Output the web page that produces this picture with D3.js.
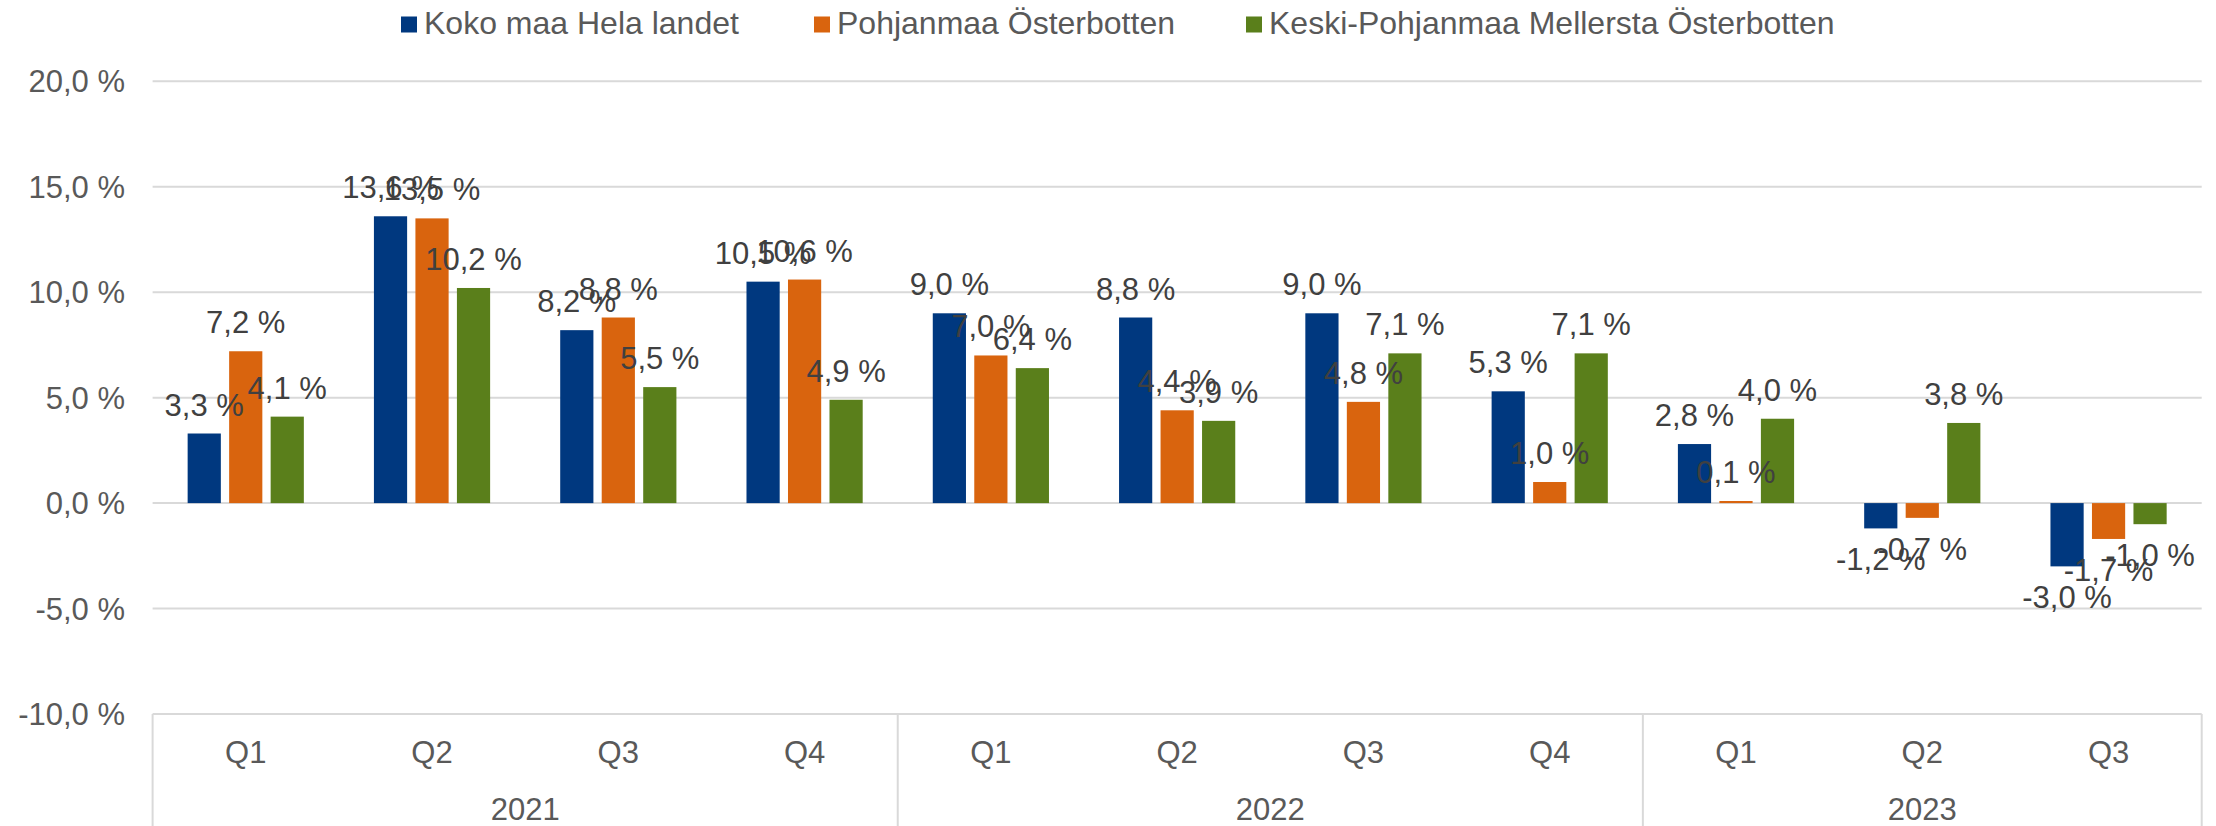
<!DOCTYPE html>
<meta charset="UTF-8">
<style>
  body { margin: 0; background: #fff; }
  svg { display: block; font-family: "Liberation Sans", Arial, sans-serif; }
</style>
<svg xmlns="http://www.w3.org/2000/svg"></svg>
<script src="https://d3js.org/d3.v7.min.js"></script>
<script>
  const WIDTH = 2216, HEIGHT = 826;

  const years = ['2021', '2022', '2023'];
  const quarters = ['Q1', 'Q2', 'Q3', 'Q4', 'Q1', 'Q2', 'Q3', 'Q4', 'Q1', 'Q2', 'Q3'];
  const yearOf = [0, 0, 0, 0, 1, 1, 1, 1, 2, 2, 2];

  const seriesNames = ['Koko maa Hela landet', 'Pohjanmaa Österbotten', 'Keski-Pohjanmaa Mellersta Österbotten'];
  const seriesColors = ['#00387f', '#d9640e', '#5a7f1b'];

  const kokoMaa = [3.3, 13.6, 8.2, 10.5, 9.0, 8.8, 9.0, 5.3, 2.8, -1.2, -3.0];
  const pohjanmaa = [7.2, 13.5, 8.8, 10.6, 7.0, 4.4, 4.8, 1.0, 0.1, -0.7, -1.7];
  const keskiPohjanmaa = [4.1, 10.2, 5.5, 4.9, 6.4, 3.9, 7.1, 7.1, 4.0, 3.8, -1.0];

  const yTicks = [-10, -5, 0, 5, 10, 15, 20];

  const seriesValues = [kokoMaa, pohjanmaa, keskiPohjanmaa];

  const plot = { left: 152.6, right: 2201.7, top: 81.3, bottom: 714 };

  const locale = d3.formatLocale({ decimal: ',', thousands: ' ', grouping: [3], currency: ['', ' €'], minus: '-' });
  const fmt = locale.format('.1f');
  const pct = v => fmt(v) + ' %';

  const svg = d3.select('svg')
    .attr('width', WIDTH)
    .attr('height', HEIGHT)
    .attr('viewBox', `0 0 ${WIDTH} ${HEIGHT}`);

  const x = d3.scaleBand()
    .domain(d3.range(quarters.length))
    .range([plot.left, plot.right]);

  const groupWidth = 124.5;
  const x1 = d3.scaleBand()
    .domain(d3.range(seriesNames.length))
    .range([-groupWidth / 2, groupWidth / 2])
    .paddingInner(0.2)
    .paddingOuter(0.1);

  const y = d3.scaleLinear()
    .domain([-10, 20])
    .range([plot.bottom, plot.top]);

  // gridlines
  svg.append('g')
    .selectAll('line')
    .data(yTicks)
    .join('line')
      .attr('x1', plot.left)
      .attr('x2', plot.right)
      .attr('y1', d => y(d))
      .attr('y2', d => y(d))
      .attr('stroke', '#d9d9d9')
      .attr('stroke-width', 2);

  // y tick labels
  svg.append('g')
    .selectAll('text')
    .data(yTicks)
    .join('text')
      .attr('x', 125)
      .attr('y', d => y(d) + 11)
      .attr('text-anchor', 'end')
      .attr('font-size', 31)
      .attr('fill', '#595959')
      .text(pct);

  // category axis separators
  const sepIdx = [0, 4, 8, 11];
  svg.append('g')
    .selectAll('line')
    .data(sepIdx)
    .join('line')
      .attr('x1', d => d < quarters.length ? x(d) : x.range()[1])
      .attr('x2', d => d < quarters.length ? x(d) : x.range()[1])
      .attr('y1', plot.bottom)
      .attr('y2', HEIGHT)
      .attr('stroke', '#d9d9d9')
      .attr('stroke-width', 2);

  svg.append('g')
    .selectAll('text')
    .data(quarters)
    .join('text')
      .attr('x', (_, i) => x(i) + x.bandwidth() / 2)
      .attr('y', 763)
      .attr('text-anchor', 'middle')
      .attr('font-size', 31)
      .attr('fill', '#595959')
      .text(d => d);

  svg.append('g')
    .selectAll('text')
    .data(years)
    .join('text')
      .attr('x', (_, yi) => {
        const idx = yearOf.map((v, i) => v === yi ? i : -1).filter(i => i >= 0);
        return (x(idx[0]) + x(idx[idx.length - 1]) + x.bandwidth()) / 2;
      })
      .attr('y', 820)
      .attr('text-anchor', 'middle')
      .attr('font-size', 31)
      .attr('fill', '#595959')
      .text(d => d);

  // bars
  const flat = [];
  seriesValues.forEach((vals, s) => vals.forEach((v, i) => flat.push({ s, i, v })));

  svg.append('g')
    .selectAll('rect')
    .data(flat)
    .join('rect')
      .attr('x', d => x(d.i) + x.bandwidth() / 2 + x1(d.s))
      .attr('width', x1.bandwidth())
      .attr('y', d => y(Math.max(0, d.v)))
      .attr('height', d => Math.abs(y(d.v) - y(0)))
      .attr('fill', d => seriesColors[d.s]);

  // data labels
  svg.append('g')
    .selectAll('text')
    .data(flat)
    .join('text')
      .attr('x', d => x(d.i) + x.bandwidth() / 2 + x1(d.s) + x1.bandwidth() / 2)
      .attr('y', d => d.v >= 0 ? y(d.v) - 18 : y(d.v) + 42)
      .attr('text-anchor', 'middle')
      .attr('font-size', 31)
      .attr('fill', '#404040')
      .text(d => pct(d.v));

  // legend
  const legendX = [401, 814, 1246];
  const legend = svg.append('g')
    .selectAll('g')
    .data(seriesNames)
    .join('g')
      .attr('transform', (_, i) => `translate(${legendX[i]},0)`);

  legend.append('rect')
    .attr('x', 0)
    .attr('y', 16.5)
    .attr('width', 16)
    .attr('height', 16)
    .attr('fill', (_, i) => seriesColors[i]);

  legend.append('text')
    .attr('x', 23)
    .attr('y', 34)
    .attr('font-size', 32)
    .attr('fill', '#595959')
    .text(d => d);
</script>
